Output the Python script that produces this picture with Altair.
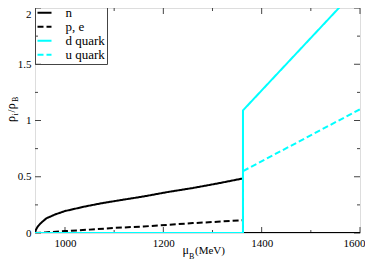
import altair as alt
import pandas as pd

# ---- data ----
series_names = ["n", "p, e", "d quark", "u quark"]
series_colors = ["#000000", "#000000", "#00ffff", "#00ffff"]
series_dashes = [[1, 0], [6, 3], [1, 0], [6, 3]]

mu_n = [939, 941, 945, 950, 962, 980, 1000, 1040, 1075, 1110, 1160, 1210, 1260, 1310, 1362, 1362, 1600]
rho_n = [0, 0.03, 0.06, 0.085, 0.13, 0.165, 0.195, 0.235, 0.265, 0.29, 0.325, 0.365, 0.40, 0.44, 0.485, 0, 0]
mu_p = [939, 960, 1000, 1050, 1100, 1160, 1210, 1260, 1310, 1362, 1362, 1600]
rho_p = [0, 0.005, 0.017, 0.03, 0.045, 0.058, 0.073, 0.088, 0.10, 0.114, 0, 0]
mu_d = [939, 1362, 1362, 1557, 1600]
rho_d = [0, 0, 1.09, 2.0, 2.2]
mu_u = [939, 1362, 1362, 1600]
rho_u = [0, 0, 0.55, 1.1]

x_major = [1000, 1200, 1400, 1600]
x_minor = [1100, 1300, 1500]
x_major_top = [1200, 1400, 1600]   # the 1000 tick on top is hidden by the legend box
y_major = [0, 0.5, 1, 1.5, 2]
y_minor = [0.25, 0.75, 1.25, 1.75]

rows = []
for name, mus, rhos in zip(series_names, [mu_n, mu_p, mu_d, mu_u], [rho_n, rho_p, rho_d, rho_u]):
    for i, (m, r) in enumerate(zip(mus, rhos)):
        rows.append({"series": name, "mu": m, "rho": r, "idx": i})
df = pd.DataFrame(rows)

W, H = 325, 225
FONT = "Liberation Serif, serif"
FRAME = "#444444"

xs = alt.Scale(domain=[939, 1600], nice=False, zero=False)
ys = alt.Scale(domain=[0, 2], nice=False, zero=False)

legend = alt.Legend(
    title=None, orient="none", legendX=0, legendY=-3,
    strokeColor=FRAME, padding=1.5,
    symbolType="stroke", symbolSize=196, symbolStrokeWidth=2,
    labelFont=FONT, labelFontSize=13, labelColor="black", labelOffset=13,
    rowPadding=0, clipHeight=12.7,
)

lines = alt.Chart(df).mark_line(strokeWidth=2, clip=True).encode(
    x=alt.X("mu:Q", scale=xs, axis=alt.Axis(
        values=x_major, title=None, domain=False, ticks=False, grid=False,
        labelFlush=True, labelFlushOffset=5,
        labelFont=FONT, labelFontSize=11, labelColor="black", labelPadding=4, format="d")),
    y=alt.Y("rho:Q", scale=ys, axis=alt.Axis(
        values=y_major, title=None, domain=False, ticks=False, grid=False, labelFlush=False,
        labelFont=FONT, labelFontSize=11, labelColor="black", labelPadding=4, format="~g",
        labelBaseline={"condition": {"test": "datum.value == 2", "value": "top"}, "value": "middle"})),
    color=alt.Color("series:N", scale=alt.Scale(domain=series_names, range=series_colors), legend=legend),
    strokeDash=alt.StrokeDash("series:N", scale=alt.Scale(domain=series_names, range=series_dashes), legend=legend),
    order=alt.Order("idx:Q"),
)


def xticks(vals, length, top):
    return alt.Chart(pd.DataFrame({"mu": vals})).mark_rule(color=FRAME, strokeWidth=1).encode(
        x=alt.X("mu:Q", scale=xs, title=None),
        y=alt.value(0 if top else H),
        y2=alt.value(length if top else H - length),
    )


def yticks(vals, length, right):
    return alt.Chart(pd.DataFrame({"rho": vals})).mark_rule(color=FRAME, strokeWidth=1).encode(
        y=alt.Y("rho:Q", scale=ys, title=None),
        x=alt.value(W if right else 0),
        x2=alt.value(W - length if right else length),
    )


def txt(s, x, y, size, angle=0):
    return alt.Chart(pd.DataFrame({"t": [s]})).mark_text(
        text=s, font=FONT, fontSize=size, color="black", align="left",
        baseline="alphabetic", angle=angle,
    ).encode(x=alt.value(x), y=alt.value(y))


ticks = [
    xticks(x_major, 6, False), xticks(x_minor, 3, False),
    xticks(x_major_top, 6, True), xticks(x_minor, 3, True),
    yticks(y_major, 6, False), yticks(y_minor, 3, False),
    yticks(y_major, 6, True), yticks(y_minor, 3, True),
]

titles = [
    txt("μ", 147.5, 246, 12),
    txt("B", 154, 251, 8),
    txt("(MeV)", 160, 246, 11),
    txt("ρ", -20.5, 114, 12, 270),
    txt("i", -17.5, 107.5, 8, 270),
    txt("/ρ", -20.5, 104.5, 12, 270),
    txt("B", -17.5, 94, 8, 270),
]

chart = alt.layer(*ticks, lines, *titles).properties(
    width=W, height=H,
    autosize=alt.AutoSizeParams(type="none"),
    padding={"left": 27, "top": 0, "right": 5, "bottom": 29},
).configure_view(stroke=FRAME, strokeWidth=1).configure(font=FONT).configure_axis(
    labelFont=FONT
).configure_legend(labelFont=FONT)

chart.save("out.html", embed_options={"renderer": "svg", "actions": False})
